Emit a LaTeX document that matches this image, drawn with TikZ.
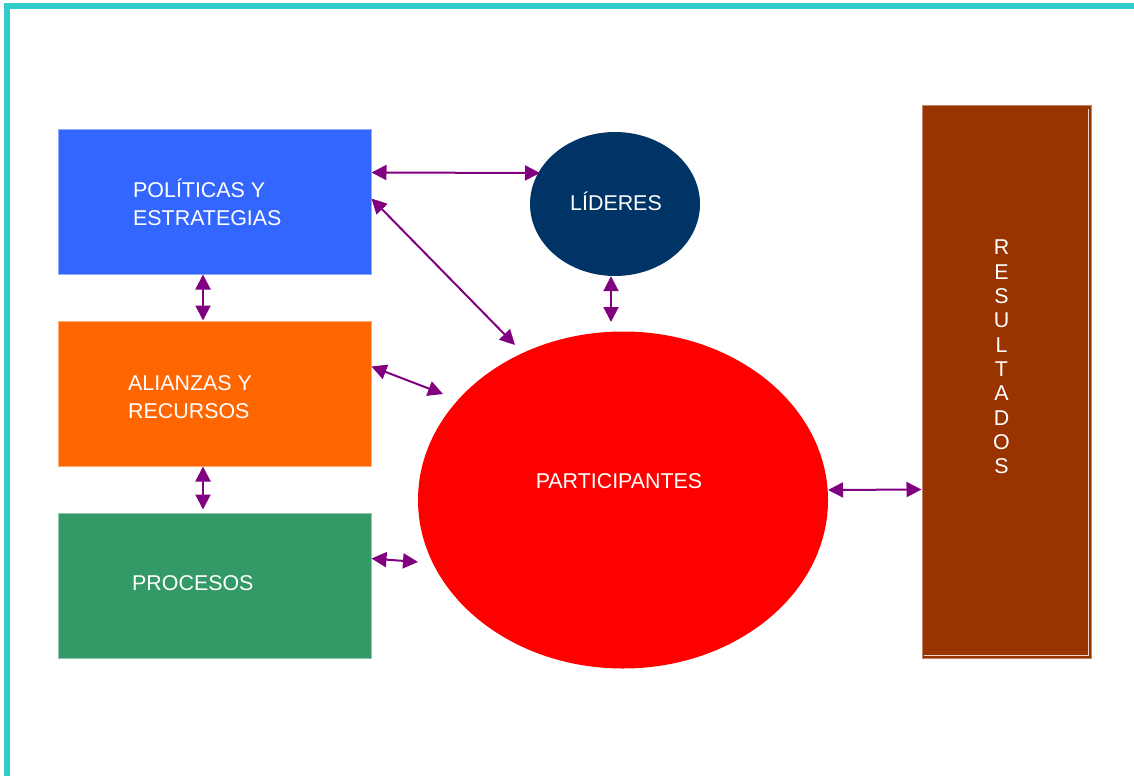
\documentclass[tikz,border=0pt]{standalone}
\usepackage{fontspec}
\setmainfont{Liberation Sans}
\usetikzlibrary{arrows.meta,calc,shapes.geometric}
\definecolor{frameC}{HTML}{33CCCC}
\definecolor{polC}{HTML}{3366FF}
\definecolor{aliC}{HTML}{FF6600}
\definecolor{proC}{HTML}{339966}
\definecolor{resC}{HTML}{993300}
\definecolor{lidC}{HTML}{003366}
\definecolor{parC}{HTML}{FF0000}
\definecolor{arrC}{HTML}{800080}
\tikzset{
  box/.style={rectangle, minimum width=313pt, minimum height=145pt, inner sep=0pt, line width=1pt},
  oval/.style={ellipse, inner sep=0pt},
  lbl/.style={text=white, inner sep=0pt, font=\fontsize{21.4}{24.3}\selectfont},
  conn/.style={draw=arrC, line width=2pt, {Triangle[length=15pt,width=15pt]}-{Triangle[length=15pt,width=15pt]}}
}
\begin{document}
\begin{tikzpicture}[x=1pt,y=-1pt]
\useasboundingbox (0,0) rectangle (1134,776);
\fill[white] (0,0) rectangle (1134,776);
% frame
\fill[frameC] (4,3) rectangle (1134,9);
\fill[frameC] (4,3) rectangle (10,776);
% shapes
\node[box, fill=polC, draw=polC!55!white] (pol) at (214.5,201.5) {};
\node[box, fill=aliC, draw=aliC!55!white] (ali) at (214.5,393.5) {};
\node[box, fill=proC, draw=proC!55!white] (pro) at (214.5,585.5) {};
\node[rectangle, inner sep=0pt, minimum width=169pt, minimum height=553pt, fill=resC, draw=resC!60!white, line width=1pt] (res) at (1006.5,381.5) {};
\draw[white!80!resC, line width=1pt] ([xshift=-3pt,yshift=-4pt]res.north east) -- ([xshift=-3pt,yshift=3pt]res.south east) -- ([xshift=2pt,yshift=3pt]res.south west);
\node[oval, fill=lidC, minimum width=170pt, minimum height=144pt] (lid) at (615,204) {};
\node[oval, fill=parC, minimum width=410pt, minimum height=337pt] (par) at (623,500) {};
% labels
\node[lbl, anchor=base west] (polA) at (133,197) {POLÍTICAS Y};
\node[lbl, anchor=base west] (polB) at (133,225) {ESTRATEGIAS};
\node[lbl, anchor=base west] (aliA) at (128,390) {ALIANZAS Y};
\node[lbl, anchor=base west] (aliB) at (128,418) {RECURSOS};
\node[lbl, anchor=base west] (proA) at (132,590) {PROCESOS};
\node[lbl, anchor=base] (lidA) at (616,210) {LÍDERES};
\node[lbl, anchor=base] (parA) at (619,488) {PARTICIPANTES};
\node[lbl, align=center, anchor=center] (resA) at (1001.5,357) {R\\E\\S\\U\\L\\T\\A\\D\\O\\S};
% connectors
\draw[conn] ([yshift=-44pt]pol.north east) -- ($(lid.center)+(-75,-31)$);
\draw[conn] ([yshift=-70pt]pol.north east) -- ($(par.center)+(-108,-155)$);
\draw[conn] ([xshift=-11.5pt]pol.south) -- ([xshift=-11.5pt]ali.north);
\draw[conn] ([xshift=-4pt]lid.south) -- ($(par.center)+(-12,-178)$);
\draw[conn] ([yshift=-46pt]ali.north east) -- ($(par.center)+(-180,-106)$);
\draw[conn] ([xshift=-11.5pt]ali.south) -- ([xshift=-11.5pt,yshift=3pt]pro.north);
\draw[conn] ([yshift=-46pt]pro.north east) -- ($(par.center)+(-205,62)$);
\draw[conn] ($(par.center)+(205,-10)$) -- ([yshift=-385pt]res.north west);
\end{tikzpicture}
\end{document}
